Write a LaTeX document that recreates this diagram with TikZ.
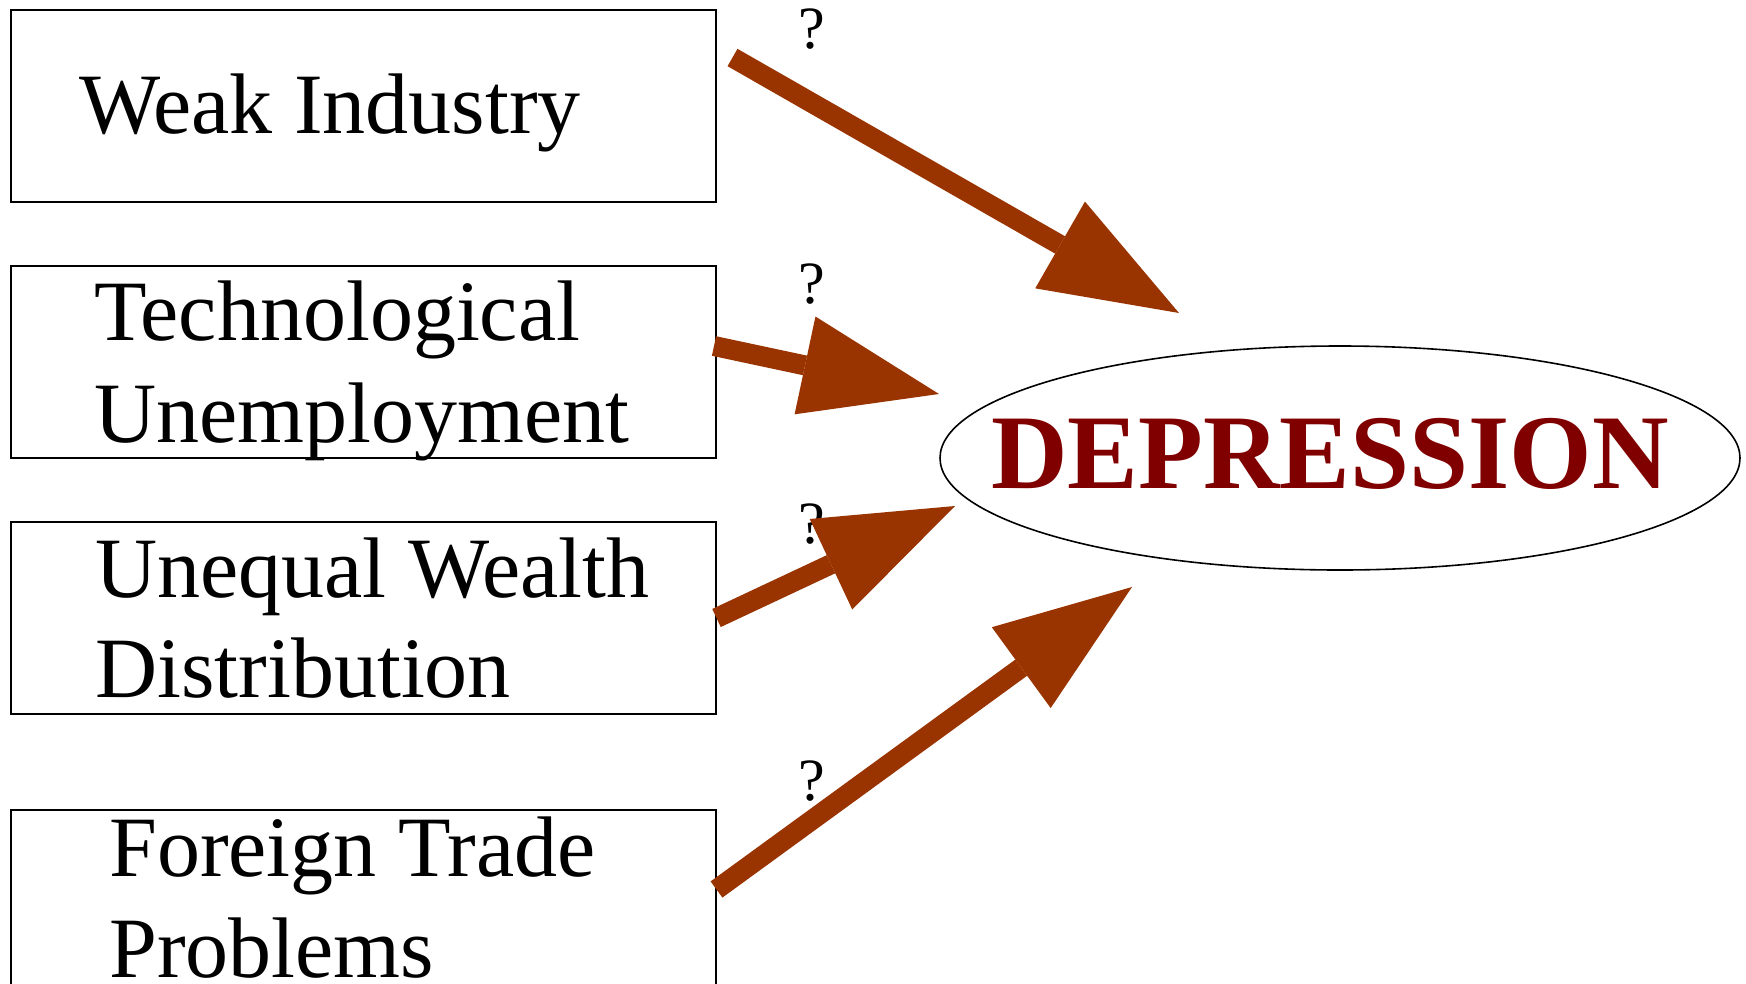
\documentclass[tikz,border=0pt]{standalone}
\usepackage{fontspec}
\setmainfont{Liberation Serif}
\usetikzlibrary{arrows.meta,shapes.geometric}
\definecolor{arrowbrown}{HTML}{993300}
\definecolor{deepred}{HTML}{800000}
\tikzset{
  causebox/.style={draw=black,line width=2pt,minimum width=705pt,minimum height=192pt,inner sep=0pt,anchor=center},
  boxtext/.style={anchor=base west,inner sep=0pt,font=\fontsize{86}{101}\selectfont},
  qmark/.style={anchor=base,inner sep=0pt,font=\fontsize{60}{60}\selectfont},
  bigarrow/.style={draw=arrowbrown,line width=20pt,line cap=butt,
    -{Triangle[length=137pt,width=100pt,line width=0pt]}},
  effect/.style={draw=black,line width=1.6pt,ellipse,minimum width=800pt,minimum height=224pt,inner sep=0pt},
  efftext/.style={anchor=base,inner sep=0pt,text=deepred,font=\fontsize{106}{106}\selectfont\bfseries}
}
\begin{document}
\begin{tikzpicture}[x=1pt,y=-1pt]
\useasboundingbox (0,0) rectangle (1746,983);
\clip (0,0) rectangle (1746,983);
% boxes
\node[causebox] (b1) at (363.5,106) {};
\node[causebox] (b2) at (363.5,362) {};
\node[causebox] (b3) at (363.5,618) {};
\node[causebox] (b4) at (363.5,906) {};
% box texts
\node[boxtext] (t1) at (79,133) {Weak Industry};
\node[boxtext] (t2a) at (94,340) {Technological};
\node[boxtext] (t2b) at (94,442) {Unemployment};
\node[boxtext] (t3a) at (95,597) {Unequal Wealth};
\node[boxtext] (t3b) at (95,697) {Distribution};
\node[boxtext] (t4a) at (109,876) {Foreign Trade};
\node[boxtext] (t4b) at (109,977) {Problems};
% question marks
\node[qmark] (q1) at (812,48) {?};
\node[qmark] (q2) at (812,303) {?};
\node[qmark] (q3) at (812,543) {?};
\node[qmark] (q4) at (812,800) {?};
% effect
\node[effect] (dep) at (1340,458) {};
\node[efftext] (dept) at (1330,488) {DEPRESSION};
% arrow ends
\coordinate (s1) at (732.5,57.5);
\coordinate (e1) at (1179,313);
\coordinate (s2) at (714,346);
\coordinate (e2) at (939,394);
\coordinate (s3) at (716.5,618);
\coordinate (e3) at (955,506);
\coordinate (s4) at (716.5,889.5);
\coordinate (e4) at (1132,587);
\draw[bigarrow] (s1) -- (e1);
\draw[bigarrow] (s2) -- (e2);
\draw[bigarrow] (s3) -- (e3);
\draw[bigarrow] (s4) -- (e4);
\end{tikzpicture}
\end{document}
